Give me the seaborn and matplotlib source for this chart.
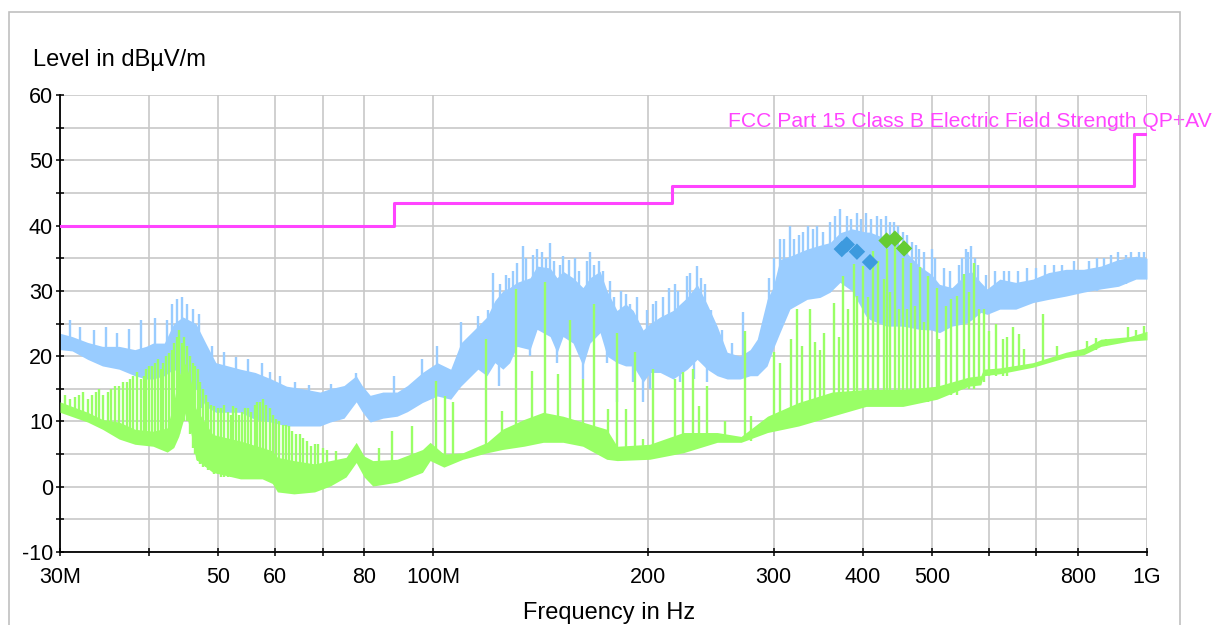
import numpy as np
import pandas as pd
import matplotlib
matplotlib.use("Agg")
import matplotlib.pyplot as plt
import seaborn as sns
from matplotlib.patches import Rectangle
from matplotlib.ticker import FixedLocator, FixedFormatter, MultipleLocator, NullLocator

# Peak trace (blue): band, MHz / dBuV/m
blue_mhz = [30.0, 31.2, 32.8, 34.4, 36.3, 38.2, 39.6, 40.5, 42.0, 43.3, 44.6, 46.5, 48.0,
            49.6, 53.7, 56.3, 59.3, 62.3, 65.7, 69.4, 71.7, 75.0, 78.0, 79.5, 81.6, 85.0,
            89.0, 92.0, 96.6, 101.3, 105.8, 109.3, 115.5, 118.9, 122.0, 125.2, 128.0,
            131.0, 136.7, 139.8, 145.8, 149.1, 152.0, 157.0, 162.1, 165.8, 171.3, 175.2,
            180.9, 186.0, 190.6, 196.8, 201.3, 207.9, 216.8, 226.9, 234.3, 241.9, 249.9,
            258.1, 269.2, 278.0, 284.4, 293.6, 299.2, 306.0, 316.0, 334.0, 348.3, 359.8,
            371.5, 386.0, 404.0, 409.0, 431.0, 455.0, 480.0, 499.0, 512.0, 533.0, 557.0,
            567.0, 585.0, 597.0, 622.0, 655.0, 692.0, 728.0, 770.0, 815.0, 862.0, 912.0,
            965.0, 1000.0]
blue_lo = [21.0, 20.8, 19.5, 18.5, 18.0, 17.0, 16.5, 16.5, 17.0, 18.0, 17.0, 15.0, 12.3,
           11.4, 11.4, 10.3, 9.9, 9.3, 9.3, 9.3, 9.9, 10.5, 13.0, 11.5, 9.9, 10.5,
           10.8, 11.5, 12.9, 13.9, 13.4, 15.4, 18.0, 17.0, 19.0, 18.0, 19.0,
           21.5, 21.0, 24.1, 23.0, 20.5, 23.0, 22.0, 18.5, 22.0, 23.6, 20.0,
           19.0, 18.5, 18.5, 16.0, 17.5, 17.5, 16.5, 18.0, 19.5, 18.0, 17.0,
           16.5, 16.5, 17.0, 17.0, 18.5, 21.0, 23.6, 27.2, 28.7, 29.0, 29.8,
           31.3, 30.0, 26.1, 25.6, 24.6, 24.6, 24.1, 24.0, 23.6, 24.6, 25.0,
           25.5, 26.7, 26.4, 27.2, 27.2, 28.2, 28.7, 29.2, 29.8, 30.3, 30.7,
           31.8, 31.8]
blue_hi = [23.5, 23.0, 22.1, 21.5, 21.5, 21.0, 21.5, 22.0, 22.0, 25.0, 26.0, 25.0, 22.0,
           19.0, 18.0, 17.5, 16.5, 15.4, 15.0, 14.5, 15.0, 15.5, 17.0, 15.5, 14.0, 14.5,
           14.5, 15.5, 17.5, 19.0, 18.0, 22.0, 24.6, 26.0, 28.5, 30.0, 30.5,
           31.3, 32.0, 33.8, 33.5, 32.0, 33.0, 32.0, 30.5, 32.0, 33.0, 30.0,
           27.0, 28.0, 27.0, 24.0, 25.0, 26.0, 27.0, 29.0, 31.0, 28.0, 24.6,
           20.6, 20.0, 21.0, 22.6, 28.7, 30.5, 34.8, 35.3, 36.4, 37.0, 37.4,
           38.9, 39.5, 39.0, 39.0, 38.0, 36.4, 33.8, 32.5, 31.0, 30.5, 32.5,
           33.0, 31.3, 30.3, 31.8, 31.3, 31.8, 32.8, 33.3, 33.3, 33.8, 34.8,
           35.3, 35.0]

# Peak trace: single spikes and dips
blue_spike_mhz = [31.0, 32.0, 33.5, 34.8, 36.0, 37.5, 39.0, 40.8, 42.3, 43.0, 43.8, 44.5,
                  45.2, 46.0, 47.0, 47.5, 49.0, 51.0, 53.0, 55.0, 57.5, 59.0, 61.0, 64.0,
                  67.0, 72.0, 78.0, 88.0, 96.6, 101.3, 109.3, 115.5, 121.3, 123.5, 126.5,
                  131.0, 133.6, 136.7, 139.8, 145.8, 149.1, 152.0, 158.0, 162.1, 165.8,
                  170.5, 175.2, 177.0, 180.9, 183.0, 190.6, 193.0, 196.8, 201.3, 205.0,
                  214.0, 222.0, 226.9, 232.0, 234.3, 240.0, 241.9, 272.0, 284.0, 306.0,
                  316.0, 325.0, 340.0, 359.8, 366.0, 371.5, 380.0, 392.0, 404.0, 418.0,
                  431.0, 442.0, 455.0, 468.0, 480.0, 499.0, 545.0, 557.0, 567.0, 575.0,
                  612.0, 640.0, 700.0, 760.0, 890.0, 912.0, 975.0]
blue_spike_lo = [21.0, 21.0, 20.0, 19.5, 19.0, 18.5, 18.0, 18.0, 19.0, 20.0, 20.0, 20.0,
                 20.0, 19.0, 18.0, 12.0, 14.0, 13.0, 13.0, 12.0, 12.0, 11.0, 11.0, 10.5,
                 10.5, 11.0, 13.0, 12.0, 14.0, 15.0, 17.0, 20.0, 22.0, 15.4, 22.0,
                 24.0, 25.0, 20.0, 26.0, 26.0, 19.0, 25.0, 24.0, 16.5, 24.0,
                 25.0, 19.0, 22.0, 12.9, 20.0, 16.0, 19.0, 12.9, 15.0, 19.0,
                 18.0, 16.0, 20.0, 16.5, 21.0, 20.0, 16.0, 17.0, 17.0, 26.0,
                 28.0, 29.0, 30.0, 31.0, 31.0, 32.0, 32.0, 31.0, 30.0, 29.0,
                 28.0, 28.0, 27.0, 27.0, 26.0, 26.0, 27.0, 27.0, 27.0, 27.0,
                 28.0, 28.0, 29.0, 30.0, 31.0, 31.0, 32.0]
blue_spike_hi = [25.5, 24.5, 24.0, 24.4, 23.5, 24.1, 25.6, 25.8, 25.6, 28.0, 28.7, 29.0,
                 28.0, 27.2, 26.5, 18.0, 21.5, 20.6, 19.8, 19.5, 19.0, 17.5, 17.0, 16.0,
                 15.6, 15.8, 17.4, 17.0, 19.5, 21.5, 25.2, 26.1, 32.8, 22.0, 32.5,
                 34.3, 36.8, 26.0, 36.4, 37.4, 26.0, 35.3, 35.0, 24.0, 35.9,
                 34.5, 26.0, 31.5, 20.0, 30.0, 20.0, 29.0, 20.0, 20.0, 28.5,
                 30.5, 22.0, 32.3, 23.0, 33.8, 31.0, 22.0, 26.7, 20.0, 37.9,
                 39.9, 38.5, 39.5, 40.5, 41.5, 42.5, 41.5, 42.0, 42.0, 41.5,
                 41.5, 40.5, 39.0, 37.5, 36.4, 36.4, 34.0, 36.4, 36.8, 35.0,
                 33.0, 33.0, 33.5, 34.0, 35.5, 36.0, 36.0]

# Peak trace: finer hair on the band
blue_hair_mhz = [119.5, 124.0, 127.5, 129.5, 135.0, 138.0, 142.0, 144.0, 147.5, 150.5,
                 155.0, 160.0, 164.0, 168.0, 173.0, 179.0, 186.0, 188.5, 199.0, 203.0,
                 210.0, 218.0, 220.0, 229.0, 237.0, 245.0, 254.0, 262.0, 295.0, 300.0,
                 310.0, 320.0, 330.0, 335.0, 345.0, 352.0, 385.0, 398.0, 411.0, 424.0,
                 437.0, 448.0, 461.0, 474.0, 487.0, 505.0, 520.0, 530.0, 550.0, 562.0,
                 580.0, 595.0, 630.0, 660.0, 680.0, 720.0, 740.0, 790.0, 830.0, 850.0,
                 870.0, 935.0, 950.0, 990.0]
blue_hair_lo = [20.0, 20.0, 21.0, 22.0, 24.0, 25.0, 26.0, 26.0, 24.0, 24.0,
                24.0, 23.0, 24.0, 25.0, 24.0, 21.0, 20.0, 19.0, 18.0, 19.0,
                19.0, 19.0, 19.0, 20.0, 20.0, 18.0, 18.0, 17.0, 20.0, 23.0,
                27.0, 28.0, 29.0, 29.0, 30.0, 30.0, 32.0, 31.0, 30.0, 29.0,
                28.0, 28.0, 27.0, 27.0, 26.0, 26.0, 26.0, 26.0, 27.0, 27.0,
                28.0, 28.0, 28.0, 28.0, 29.0, 29.0, 29.0, 30.0, 30.0, 30.0,
                31.0, 31.0, 32.0, 32.0]
blue_hair_hi = [27.0, 31.0, 32.0, 33.0, 35.0, 35.5, 36.0, 35.0, 34.5, 34.0,
                34.8, 33.0, 34.5, 34.0, 33.0, 29.0, 29.5, 28.0, 27.0, 28.0,
                29.0, 31.0, 30.0, 32.8, 32.0, 27.0, 24.0, 22.0, 32.0, 35.0,
                38.0, 38.0, 39.0, 40.0, 40.0, 39.0, 41.0, 41.0, 41.0, 41.0,
                40.5, 40.0, 38.5, 37.0, 36.0, 35.0, 33.5, 33.0, 35.0, 36.0,
                34.0, 32.5, 33.0, 33.0, 33.5, 34.0, 34.0, 34.5, 34.5, 35.0,
                35.0, 35.5, 36.0, 36.0]

# Average trace (green): band
green_mhz = [30.0, 32.8, 34.4, 36.3, 38.2, 40.5, 42.4, 43.3, 44.0, 45.0, 45.8, 46.5, 49.1,
             53.7, 57.6, 59.5, 60.5, 63.8, 68.2, 71.7, 75.5, 78.0, 80.0, 82.3, 89.0, 96.6,
             99.0, 103.5, 110.0, 119.0, 125.0, 134.0, 142.6, 152.0, 162.0, 175.0, 181.0,
             201.0, 224.0, 250.0, 270.0, 294.0, 325.0, 362.0, 404.0, 455.0, 508.0, 563.0,
             585.0, 590.0, 622.0, 692.0, 770.0, 815.0, 862.0, 946.0, 1000.0]
green_lo = [11.4, 9.9, 8.8, 7.3, 6.5, 6.2, 5.3, 6.0, 7.7, 11.4, 8.0, 4.2, 2.2,
            1.2, 1.2, 0.5, -0.8, -1.1, -0.8, 0.1, 1.5, 3.7, 1.5, 0.1, 0.7, 2.2,
            4.0, 3.0, 4.2, 5.2, 5.7, 6.2, 6.8, 6.8, 6.2, 4.2, 4.0,
            4.2, 5.2, 6.8, 6.8, 8.3, 9.3, 10.8, 12.3, 12.3, 13.4, 15.4,
            15.6, 17.0, 17.3, 18.3, 19.8, 20.2, 21.5, 22.3, 22.5]
green_hi = [13.0, 11.4, 10.3, 9.9, 8.8, 8.5, 9.0, 13.0, 17.0, 19.0, 16.0, 12.0, 8.0,
            7.0, 6.0, 5.5, 4.5, 4.0, 3.5, 4.0, 4.5, 6.8, 4.7, 4.0, 4.2, 5.7,
            6.8, 5.0, 5.2, 6.8, 8.8, 10.3, 11.4, 10.8, 9.9, 8.8, 6.2,
            6.5, 8.3, 8.3, 7.7, 10.8, 12.9, 14.5, 14.9, 14.9, 15.4, 16.8,
            17.0, 18.0, 18.2, 19.0, 20.6, 21.2, 22.6, 23.0, 23.8]

# Average trace: comb lines
green_spike_mhz = [30.5, 31.5, 32.3, 33.3, 34.0, 35.0, 35.8, 36.8, 37.6, 38.5, 39.3, 40.0,
                   40.8, 41.5, 42.2, 43.0, 43.7, 44.4, 45.2, 46.0, 46.8, 47.6, 48.4, 49.3,
                   50.5, 51.5, 52.5, 53.5, 54.5, 55.6, 56.7, 57.8, 59.0, 60.2, 61.5, 62.8,
                   64.3, 65.8, 67.5, 69.0, 71.0, 73.0, 84.0, 87.5, 93.5, 101.0, 104.0,
                   106.5, 118.6, 124.8, 130.6, 137.4, 143.4, 149.5, 155.3, 162.0, 168.0,
                   175.6, 181.0, 186.0, 192.0, 196.5, 203.0, 218.0, 223.5, 231.0, 236.0,
                   242.0, 256.0, 273.0, 279.0, 300.0, 306.0, 317.0, 323.0, 329.0, 337.0,
                   343.0, 348.0, 353.0, 364.0, 370.0, 375.0, 381.0, 388.0, 393.0, 400.0,
                   407.0, 413.0, 420.0, 428.0, 432.0, 437.0, 444.0, 450.0, 455.0, 461.0,
                   467.0, 473.0, 481.0, 487.0, 494.0, 508.0, 512.0, 523.0, 531.0, 542.0,
                   555.0, 563.0, 573.0, 582.0, 591.0, 600.0, 615.0, 628.0, 637.0, 650.0,
                   662.0, 672.0, 716.0, 749.0, 823.0, 847.0, 875.0, 940.0, 965.0, 990.0]
green_spike_lo = [12.0, 11.0, 10.5, 10.0, 9.5, 9.0, 8.5, 8.0, 7.5, 7.0, 7.0, 7.0,
                  7.0, 6.5, 6.0, 7.0, 8.0, 10.0, 10.0, 6.0, 4.0, 3.0, 2.5, 2.0,
                  1.5, 1.5, 1.5, 1.5, 1.5, 1.5, 1.5, 1.5, 1.0, 0.0, 0.0, 0.0,
                  0.0, 0.0, 0.0, 0.0, 0.5, 1.0, 1.0, 1.0, 2.0, 5.0, 4.0,
                  4.0, 6.0, 7.0, 8.0, 9.0, 9.0, 9.0, 9.0, 8.0, 8.0,
                  7.0, 5.0, 5.0, 5.0, 5.0, 5.0, 6.0, 6.0, 6.0, 7.0,
                  7.0, 7.0, 7.0, 7.0, 9.0, 9.0, 10.0, 10.0, 10.0, 10.0,
                  11.0, 11.0, 11.0, 12.0, 12.0, 12.0, 12.0, 12.0, 12.0, 13.0,
                  13.0, 13.0, 13.0, 13.0, 13.0, 13.0, 13.0, 13.0, 13.0, 13.0,
                  13.0, 13.0, 13.0, 13.0, 13.0, 14.0, 14.0, 14.0, 14.0, 14.0,
                  15.0, 15.0, 15.0, 16.0, 16.0, 17.0, 17.0, 17.0, 17.0, 18.0,
                  18.0, 18.0, 19.0, 19.5, 20.5, 21.0, 21.5, 22.5, 22.5, 23.0]
green_spike_hi = [14.0, 13.8, 14.5, 14.0, 14.9, 14.5, 15.5, 16.0, 16.5, 17.5, 17.0, 18.5,
                  19.0, 18.0, 20.0, 21.0, 23.0, 22.0, 21.5, 19.0, 18.0, 15.0, 13.0, 12.3,
                  12.0, 11.5, 12.3, 11.0, 12.0, 11.5, 13.0, 13.4, 12.0, 10.3, 9.5, 9.3,
                  8.0, 7.5, 6.2, 6.5, 5.7, 5.5, 6.0, 8.5, 9.3, 16.2, 13.9,
                  12.9, 22.6, 11.6, 30.3, 17.7, 31.3, 17.2, 25.6, 16.5, 28.0,
                  11.9, 23.6, 11.9, 20.6, 7.3, 18.0, 16.5, 17.5, 18.0, 12.3,
                  15.4, 10.0, 23.8, 10.8, 20.6, 19.0, 22.6, 27.2, 21.5, 27.2,
                  22.1, 21.0, 23.6, 28.2, 23.0, 32.3, 27.2, 34.1, 29.2, 33.8,
                  29.0, 36.1, 34.6, 31.8, 36.4, 29.8, 36.8, 27.2, 35.1, 27.2,
                  34.3, 27.7, 33.6, 25.2, 32.3, 30.5, 22.6, 27.7, 28.7, 29.2,
                  32.6, 29.8, 34.3, 27.2, 27.2, 23.8, 24.9, 22.6, 23.0, 24.4,
                  23.4, 21.1, 26.4, 21.5, 22.3, 22.8, 22.6, 24.4, 24.0, 24.6]

# Average trace: denser comb below 70 MHz
green_comb_mhz = [31.0, 31.9, 32.8, 33.7, 34.5, 35.4, 36.3, 37.2, 38.0, 38.9, 39.6, 40.4,
                  41.2, 41.8, 42.6, 43.4, 44.0, 44.8, 45.6, 46.4, 47.2, 48.0, 48.8, 49.9,
                  51.0, 52.0, 53.0, 54.0, 55.0, 56.2, 57.2, 58.4, 59.6, 60.8, 62.2, 63.5,
                  65.0, 66.6, 68.2, 70.0]
green_comb_lo = [11.5, 11.0, 10.5, 10.0, 9.5, 9.0, 8.5, 8.0, 7.5, 7.0, 7.0, 7.0,
                 6.5, 6.0, 6.0, 7.0, 8.0, 10.0, 8.0, 5.0, 3.5, 3.0, 2.5, 2.0,
                 1.5, 1.5, 1.5, 1.5, 1.5, 1.5, 1.5, 1.5, 0.5, 0.0, 0.0, 0.0,
                 0.0, 0.0, 0.0, 0.0]
green_comb_hi = [13.5, 14.0, 13.5, 14.5, 14.0, 15.0, 15.5, 16.0, 17.0, 16.5, 18.0, 18.5,
                 19.5, 19.0, 20.5, 22.0, 24.0, 23.0, 20.0, 18.5, 16.0, 14.0, 12.5, 12.0,
                 12.5, 11.0, 12.0, 11.5, 12.0, 12.5, 13.0, 12.5, 11.0, 10.0, 9.5, 8.5,
                 8.0, 7.0, 6.5, 6.0]

# Limit line FCC Part 15 Class B
limit_mhz = [30.0, 88.0, 216.0, 960.0, 1000.0]
limit_db = [40.0, 43.5, 46.0, 54.0, 54.0]

# Final measurement points
peak_pts_mhz = [373.6, 379.6, 392.3, 409.2]
peak_pts_db = [36.4, 37.1, 36.0, 34.4]
avg_pts_mhz = [431.7, 443.4, 456.7]
avg_pts_db = [37.7, 38.0, 36.5]

x_ticks = [30, 40, 50, 60, 70, 80, 100, 200, 300, 400, 500, 600, 700, 800, 1000]
x_labels = ["30M", "", "50", "60", "", "80", "100M", "200", "300", "400", "500",
            "", "", "800", "1G"]

BLUE = "#99ccff"
GREEN = "#99ff66"
MAGENTA = "#ff44ff"

sns.set_theme(style="white")
plt.rcParams["font.family"] = ["Liberation Sans", "DejaVu Sans"]
plt.rcParams["axes.unicode_minus"] = False

fig = plt.figure(figsize=(12.13, 6.25), dpi=100)
ax = fig.add_axes([60 / 1213, 1 - 552 / 625, 1087 / 1213, 457 / 625])

ax.fill_between(blue_mhz, blue_lo, blue_hi, color=BLUE, lw=0, zorder=2)
ax.vlines(blue_spike_mhz, blue_spike_lo, blue_spike_hi, colors=BLUE, lw=1.7, zorder=2)
ax.vlines(blue_hair_mhz, blue_hair_lo, blue_hair_hi, colors=BLUE, lw=1.7, zorder=2)
ax.fill_between(green_mhz, green_lo, green_hi, color=GREEN, lw=0, zorder=3)
ax.vlines(green_spike_mhz, green_spike_lo, green_spike_hi, colors=GREEN, lw=1.7, zorder=3)
ax.vlines(green_comb_mhz, green_comb_lo, green_comb_hi, colors=GREEN, lw=1.7, zorder=3)

lim = pd.DataFrame({"f": limit_mhz, "db": limit_db})
sns.lineplot(data=lim, x="f", y="db", drawstyle="steps-post", color=MAGENTA,
             lw=2.2, ax=ax, zorder=4)

sns.scatterplot(x=peak_pts_mhz, y=peak_pts_db, marker="D", s=70, color="#3d9ade",
                edgecolor="none", ax=ax, zorder=5)
sns.scatterplot(x=avg_pts_mhz, y=avg_pts_db, marker="D", s=70, color="#66cc33",
                edgecolor="none", ax=ax, zorder=5)

ax.text(258.8, 55.1, "FCC Part 15 Class B Electric Field Strength QP+AV",
        color=MAGENTA, fontsize=15.2, ha="left", va="baseline", clip_on=False, zorder=6)

ax.set_xscale("log")
ax.set_xlim(30, 1000)
ax.set_ylim(-10, 60)
ax.xaxis.set_major_locator(FixedLocator(x_ticks))
ax.xaxis.set_major_formatter(FixedFormatter(x_labels))
ax.xaxis.set_minor_locator(NullLocator())
ax.yaxis.set_major_locator(MultipleLocator(10))
ax.yaxis.set_minor_locator(MultipleLocator(5))

ax.grid(True, which="both", color="#c8c8c8", lw=1.2)
ax.set_axisbelow(True)
ax.set_xlabel("")
ax.set_ylabel("")

for side in ["top", "right"]:
    ax.spines[side].set_visible(False)
for side in ["left", "bottom"]:
    ax.spines[side].set_color("black")
    ax.spines[side].set_linewidth(1.3)

ax.tick_params(which="both", direction="inout", length=6, width=1.1, color="black",
               labelsize=15.5, labelcolor="black", pad=3)
ax.tick_params(axis="x", which="both", bottom=True, pad=8)
ax.tick_params(axis="y", which="both", left=True, pad=2)

fig.text(33 / 1213, 1 - 66 / 625, "Level in dBµV/m", fontsize=17, ha="left",
         va="baseline", color="black")
fig.text(609 / 1213, 1 - 619 / 625, "Frequency in Hz", fontsize=17, ha="center",
         va="baseline", color="black")

# outer frame of the report window
fig.add_artist(Rectangle((9 / 1213, -0.1), 1171 / 1213, 1.1 - 12 / 625,
                         transform=fig.transFigure, fill=False, ec="#c0c0c0", lw=1.2))

fig.savefig("out.png", dpi=100)
